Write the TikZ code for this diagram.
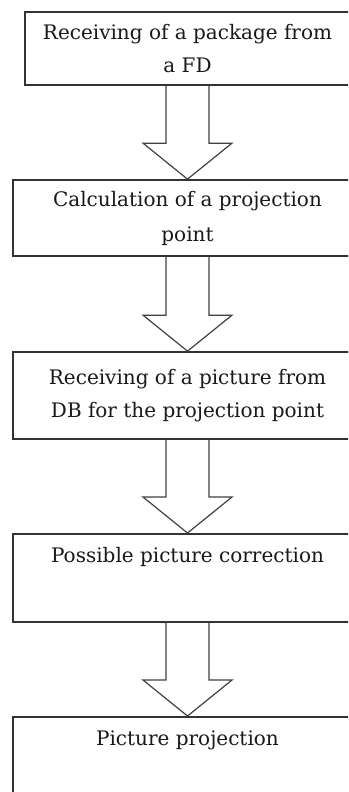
\documentclass[tikz,border=0pt]{standalone}
\usepackage{fontspec}
\setmainfont{DejaVu Serif}
\usepackage{tikz}
\usetikzlibrary{calc}

\begin{document}
\begin{tikzpicture}[
  x=1pt, y=-1pt,
  stage/.style={draw=black!80, line width=1.7pt, fill=white, inner xsep=4pt,
    inner ysep=0pt, align=center, text=black!90,
    font=\fontsize{20}{33}\selectfont},
  flow/.style={draw=black!75, line width=1.2pt, line join=miter}
]
  % Page frame
  \path[use as bounding box, clip] (0,0) rectangle (348,792);

  % Stages
  \node[stage, minimum width=325pt, minimum height=73pt] (recv) at (187.5,48.5)
    {Receiving of a package from\\a FD};

  \node[stage, minimum width=349pt, minimum height=76pt] (calc) at (187.5,218)
    {Calculation of a projection\\[2pt]point};

  \node[stage, minimum width=349pt, minimum height=87pt] (fetch) at (187.5,395.5)
    {Receiving of a picture from\\DB for the projection point};

  \node[stage, minimum width=349pt, anchor=north, text height=29pt, text depth=59pt]
    (fix) at (187.5,533) {Possible picture correction};

  \node[stage, minimum width=349pt, anchor=north, text height=29pt, text depth=100pt]
    (proj) at (187.5,716) {Picture projection};

  % Block arrows between stages
  \foreach \a/\b in {recv/calc, calc/fetch, fetch/fix, fix/proj}
    \draw[flow] ($(\a.south)+(-21.5,0)$) -- ($(\b.north)+(-21.5,-36)$)
      -- ($(\b.north)+(-44.5,-36)$) -- (\b.north)
      -- ($(\b.north)+(44.5,-36)$) -- ($(\b.north)+(21.5,-36)$)
      -- ($(\a.south)+(21.5,0)$);
\end{tikzpicture}
\end{document}
